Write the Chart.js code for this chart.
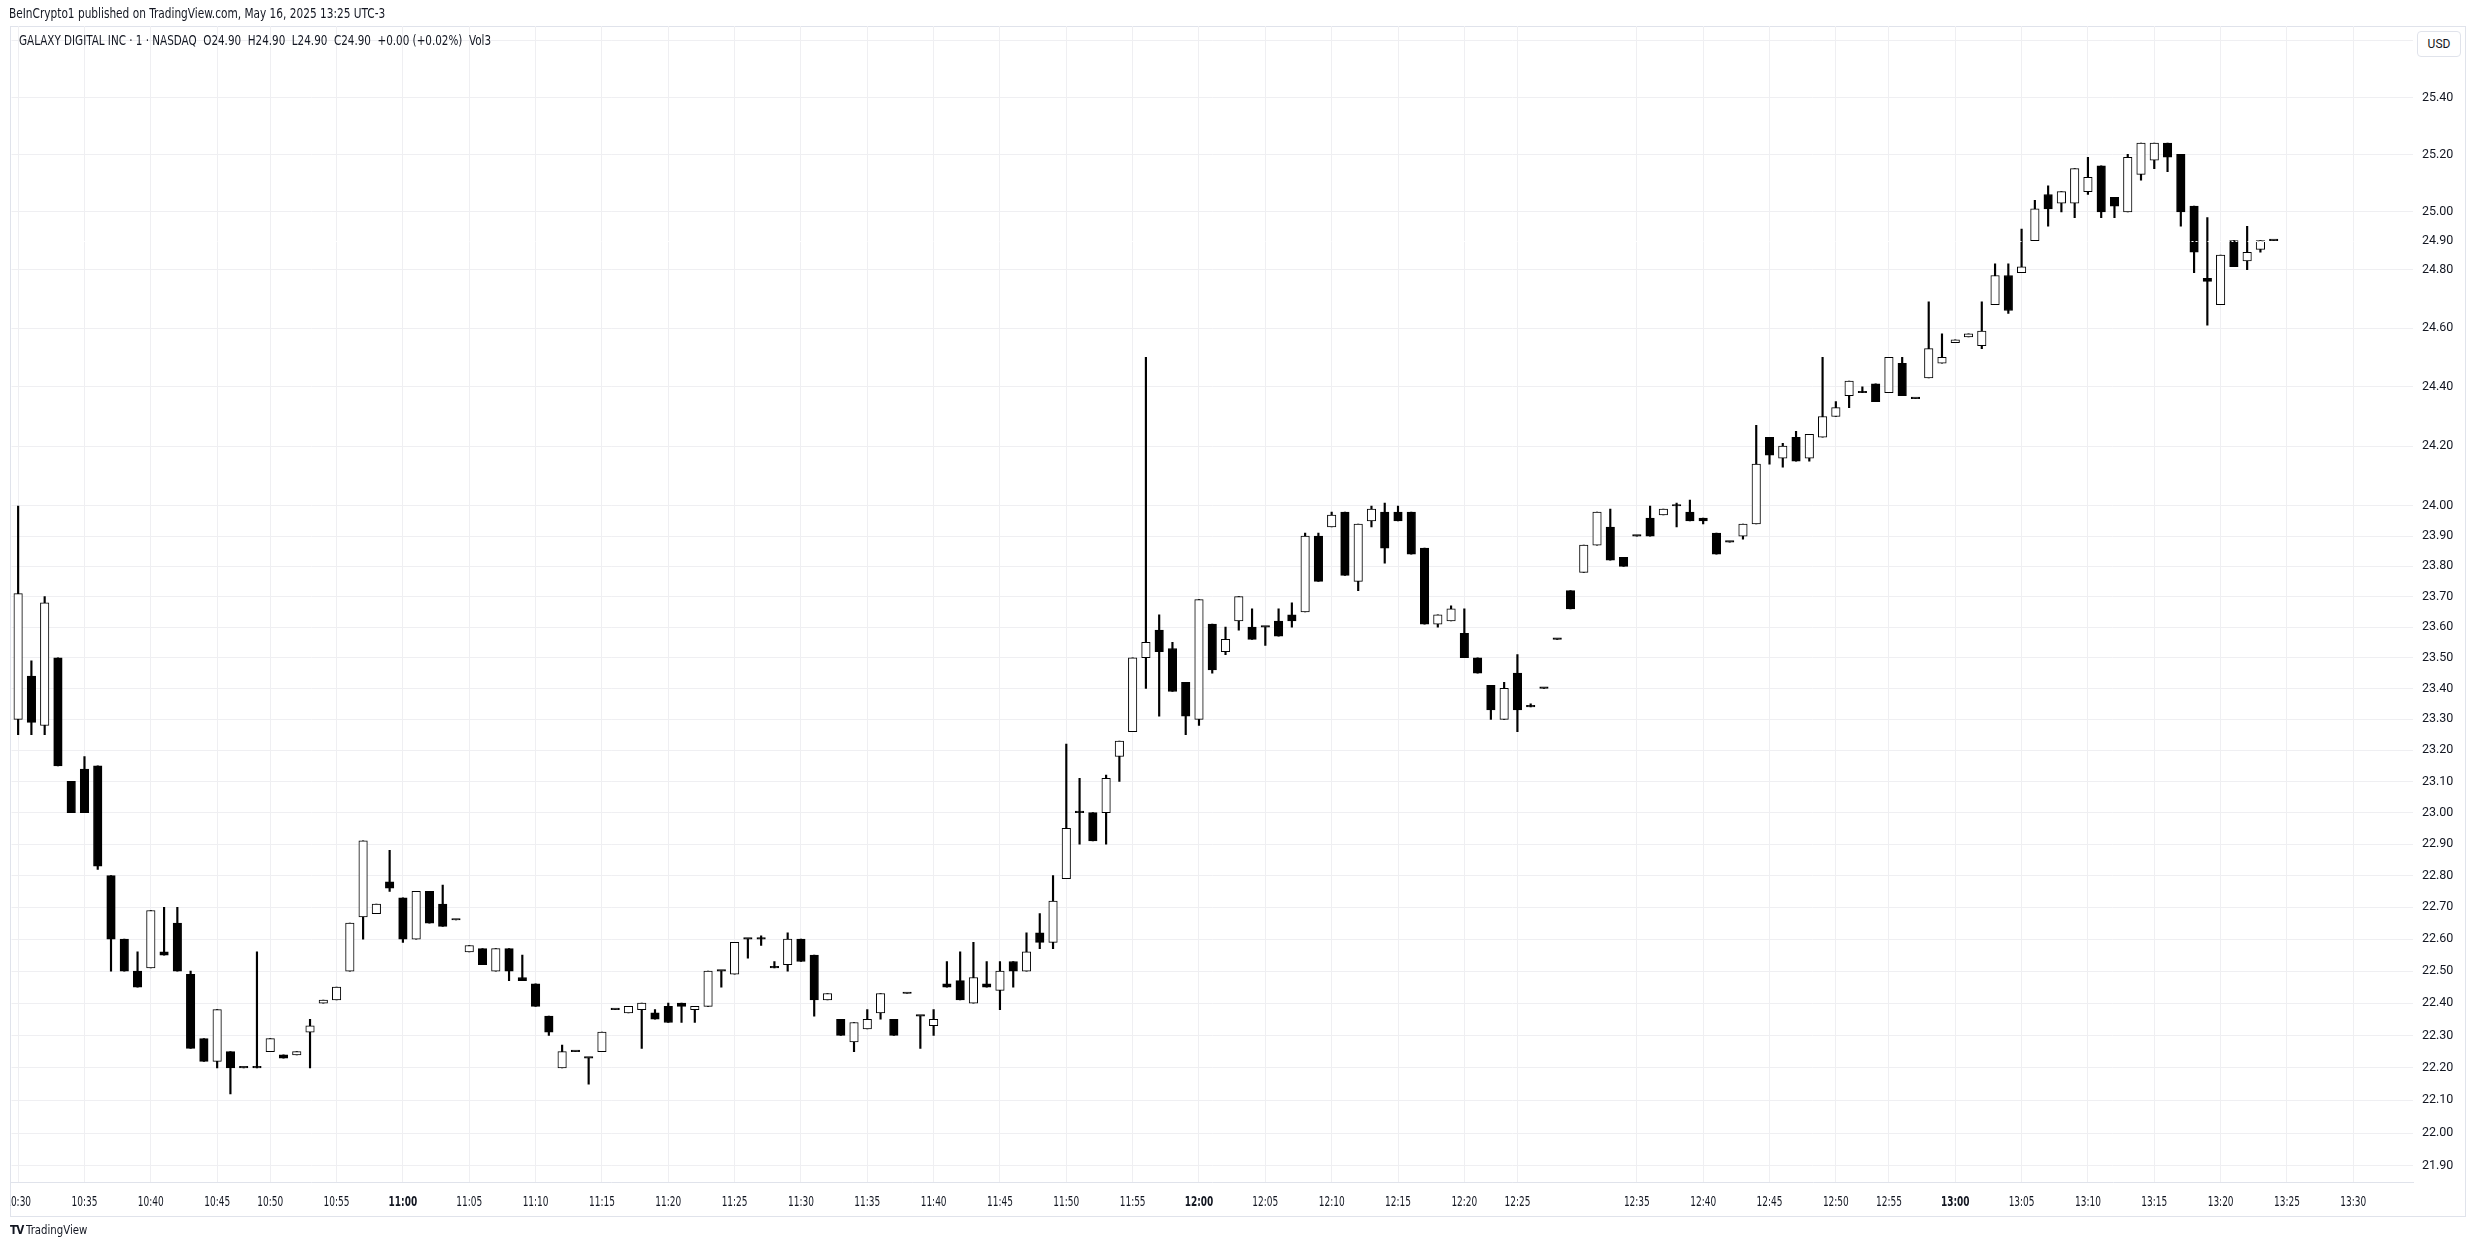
<!DOCTYPE html>
<html lang="en">
<head>
<meta charset="utf-8">
<title>GALAXY DIGITAL INC - 1 - NASDAQ</title>
<script src="https://cdn.jsdelivr.net/npm/chart.js@4.4.1/dist/chart.umd.min.js"></script>
<style>
  body { margin: 0; background: #fff; }
  #wrap { position: relative; width: 2475px; height: 1250px; overflow: hidden; }
  #frame { position: absolute; left: 10px; top: 26px; width: 2456px; height: 1191px;
           border: 1px solid #e0e3eb; box-sizing: border-box; }
  canvas { position: absolute; left: 0; top: 0; }
  .txt { position: absolute; color: #131722; white-space: pre; transform-origin: 0 0;
         font-family: "Liberation Sans Narrow", "DejaVu Sans Condensed", Roboto, sans-serif; font-size: 13.5px; }
  #head { left: 9px; top: 5px; transform: scaleX(0.87); }
  #legend { left: 19px; top: 32px; transform: scaleX(0.855); }
  #usd { position: absolute; left: 2417px; top: 31px; width: 44px; height: 26px; box-sizing: border-box;
         border: 1px solid #e0e3eb; border-radius: 4px; background: #fff;
         font: 12px Roboto, sans-serif; color: #131722; text-align: center; line-height: 24px; }
  #logo { left: 10px; top: 1222px; font-size: 13px; transform: scaleX(0.87); }
  #logo b { font-family: "DejaVu Sans", sans-serif; font-size: 12px; letter-spacing: -1px; margin-right: 3px; }
</style>
</head>
<body>
<div id="wrap">
  <div id="frame"></div>
  <canvas id="chart" width="2475" height="1250"></canvas>
  <div class="txt" id="head">BeInCrypto1 published on TradingView.com, May 16, 2025 13:25 UTC-3</div>
  <div class="txt" id="legend">GALAXY DIGITAL INC · 1 · NASDAQ  O24.90  H24.90  L24.90  C24.90  +0.00 (+0.02%)  Vol3</div>
  <div id="usd">USD</div>
  <div class="txt" id="logo"><b>TV</b>TradingView</div>
</div>
<script>
// 1-minute bars (missing minutes have no bar)
var times = [
  '10:30','10:31','10:32','10:33','10:34','10:35','10:36','10:37','10:38','10:39',
  '10:40','10:41','10:42','10:43','10:44','10:45','10:46','10:47','10:49',
  '10:50','10:51','10:52','10:53','10:54','10:55','10:56','10:57','10:58','10:59',
  '11:00','11:01','11:02','11:03','11:04','11:05','11:06','11:07','11:08','11:09',
  '11:10','11:11','11:12','11:13','11:14','11:15','11:16','11:17','11:18','11:19',
  '11:20','11:21','11:22','11:23','11:24','11:25','11:26','11:27','11:28','11:29',
  '11:30','11:31','11:32','11:33','11:34','11:35','11:36','11:37','11:38','11:39',
  '11:40','11:41','11:42','11:43','11:44','11:45','11:46','11:47','11:48','11:49',
  '11:50','11:51','11:52','11:53','11:54','11:55','11:56','11:57','11:58','11:59',
  '12:00','12:01','12:02','12:03','12:04','12:05','12:06','12:07','12:08','12:09',
  '12:10','12:11','12:12','12:13','12:14','12:15','12:16','12:17','12:18','12:19',
  '12:20','12:21',
  '12:23','12:24','12:25','12:26','12:27','12:28','12:29',
  '12:31','12:32','12:33','12:34','12:35','12:36','12:37','12:38','12:39',
  '12:40','12:41','12:42','12:43','12:44','12:45','12:46','12:47','12:48','12:49',
  '12:50','12:51','12:52','12:53',
  '12:55','12:56','12:57','12:58','12:59',
  '13:00','13:01','13:02','13:03','13:04','13:05','13:06','13:07','13:08','13:09',
  '13:10','13:11','13:12','13:13','13:14','13:15','13:16','13:17','13:18','13:19',
  '13:20','13:21','13:22','13:23','13:24'
];
// empty slots on the right of the last bar
var futureTimes = ['13:25','13:26','13:27','13:28','13:29','13:30','13:31','13:32','13:33','13:34'];

var opens = [
  23.30,23.44,23.28,23.50,23.10,23.14,23.15,22.80,22.60,22.50,
  22.51,22.56,22.65,22.49,22.29,22.22,22.25,22.20,22.20,
  22.25,22.24,22.24,22.31,22.40,22.41,22.50,22.67,22.68,22.78,
  22.73,22.60,22.75,22.71,22.66,22.56,22.57,22.50,22.57,22.48,
  22.46,22.36,22.20,22.25,22.23,22.25,22.38,22.37,22.38,22.37,
  22.39,22.40,22.38,22.39,22.50,22.49,22.60,22.60,22.51,22.52,
  22.60,22.55,22.41,22.35,22.28,22.32,22.37,22.35,22.43,22.36,
  22.33,22.46,22.47,22.40,22.46,22.44,22.53,22.50,22.62,22.59,
  22.79,23.00,23.00,23.00,23.18,23.26,23.50,23.59,23.53,23.42,
  23.30,23.61,23.52,23.62,23.60,23.60,23.62,23.64,23.65,23.90,
  23.93,23.98,23.75,23.95,23.98,23.98,23.98,23.86,23.61,23.62,
  23.58,23.50,
  23.41,23.30,23.45,23.34,23.40,23.56,23.72,
  23.78,23.87,23.93,23.83,23.90,23.96,23.97,24.00,23.98,
  23.96,23.91,23.88,23.90,23.94,24.23,24.16,24.23,24.16,24.23,
  24.30,24.37,24.38,24.41,
  24.38,24.48,24.36,24.43,24.48,
  24.55,24.57,24.54,24.68,24.78,24.79,24.90,25.06,25.03,25.03,
  25.07,25.16,25.05,25.00,25.13,25.18,25.24,25.20,25.02,24.77,
  24.68,24.90,24.83,24.87,24.90
];
var highs = [
  24.00,23.49,23.70,23.50,23.10,23.18,23.15,22.80,22.60,22.56,
  22.69,22.70,22.70,22.50,22.29,22.38,22.25,22.20,22.56,
  22.29,22.24,22.25,22.35,22.41,22.45,22.65,22.91,22.71,22.88,
  22.73,22.75,22.75,22.77,22.66,22.58,22.57,22.57,22.57,22.55,
  22.46,22.36,22.27,22.25,22.23,22.31,22.38,22.39,22.40,22.38,
  22.40,22.40,22.39,22.50,22.50,22.59,22.60,22.61,22.53,22.62,
  22.60,22.55,22.43,22.35,22.34,22.38,22.43,22.35,22.43,22.36,
  22.38,22.53,22.56,22.59,22.53,22.53,22.53,22.62,22.68,22.80,
  23.22,23.11,23.00,23.12,23.23,23.50,24.50,23.64,23.55,23.42,
  23.69,23.61,23.60,23.70,23.66,23.60,23.66,23.68,23.91,23.91,
  23.98,23.98,23.94,24.00,24.01,24.00,23.98,23.86,23.64,23.67,
  23.66,23.50,
  23.41,23.42,23.51,23.35,23.40,23.56,23.72,
  23.87,23.98,23.99,23.83,23.90,24.00,23.99,24.01,24.02,
  23.96,23.91,23.88,23.94,24.27,24.23,24.21,24.25,24.24,24.50,
  24.35,24.42,24.40,24.41,
  24.50,24.50,24.36,24.69,24.58,
  24.56,24.58,24.69,24.82,24.82,24.94,25.04,25.09,25.07,25.15,
  25.19,25.16,25.05,25.20,25.24,25.24,25.24,25.20,25.02,24.98,
  24.85,24.90,24.95,24.90,24.90
];
var lows = [
  23.25,23.25,23.25,23.15,23.00,23.00,22.82,22.50,22.50,22.45,
  22.51,22.55,22.50,22.26,22.22,22.20,22.12,22.20,22.20,
  22.25,22.23,22.24,22.20,22.40,22.41,22.50,22.60,22.68,22.75,
  22.59,22.60,22.65,22.64,22.66,22.56,22.52,22.50,22.47,22.47,
  22.39,22.30,22.20,22.25,22.15,22.25,22.38,22.37,22.26,22.35,
  22.34,22.34,22.34,22.39,22.45,22.49,22.54,22.58,22.51,22.50,
  22.53,22.36,22.41,22.30,22.25,22.32,22.35,22.30,22.43,22.26,
  22.30,22.45,22.41,22.40,22.45,22.38,22.45,22.50,22.57,22.57,
  22.79,22.90,22.91,22.90,23.10,23.26,23.40,23.31,23.39,23.25,
  23.28,23.45,23.51,23.59,23.56,23.54,23.57,23.60,23.65,23.75,
  23.93,23.77,23.72,23.93,23.81,23.95,23.84,23.61,23.60,23.62,
  23.50,23.45,
  23.30,23.30,23.26,23.34,23.40,23.56,23.66,
  23.78,23.87,23.82,23.80,23.90,23.90,23.97,23.93,23.95,
  23.94,23.84,23.88,23.89,23.94,24.14,24.13,24.15,24.15,24.23,
  24.30,24.33,24.38,24.35,
  24.38,24.37,24.36,24.43,24.48,
  24.55,24.57,24.53,24.68,24.65,24.79,24.90,24.95,25.00,24.98,
  25.06,24.98,24.98,25.00,25.11,25.15,25.14,24.95,24.79,24.61,
  24.68,24.81,24.80,24.86,24.90
];
var closes = [
  23.71,23.29,23.68,23.15,23.00,23.00,22.83,22.60,22.50,22.45,
  22.69,22.55,22.50,22.26,22.22,22.38,22.20,22.20,22.20,
  22.29,22.23,22.25,22.33,22.41,22.45,22.65,22.91,22.71,22.76,
  22.60,22.75,22.65,22.64,22.66,22.58,22.52,22.57,22.50,22.47,
  22.39,22.31,22.25,22.25,22.23,22.31,22.38,22.39,22.40,22.35,
  22.34,22.39,22.39,22.50,22.50,22.59,22.60,22.60,22.51,22.60,
  22.53,22.41,22.43,22.30,22.34,22.35,22.43,22.30,22.43,22.36,
  22.35,22.45,22.41,22.48,22.45,22.50,22.50,22.56,22.59,22.72,
  22.95,23.00,22.91,23.11,23.23,23.50,23.55,23.52,23.39,23.31,
  23.69,23.46,23.56,23.70,23.56,23.60,23.57,23.62,23.90,23.75,
  23.97,23.77,23.94,23.99,23.86,23.95,23.84,23.61,23.64,23.66,
  23.50,23.45,
  23.33,23.40,23.33,23.34,23.40,23.56,23.66,
  23.87,23.98,23.82,23.80,23.90,23.90,23.99,24.00,23.95,
  23.95,23.84,23.88,23.94,24.14,24.17,24.20,24.15,24.24,24.30,
  24.33,24.42,24.38,24.35,
  24.50,24.37,24.36,24.53,24.50,
  24.56,24.58,24.59,24.78,24.66,24.81,25.01,25.01,25.07,25.15,
  25.12,25.00,25.02,25.19,25.24,25.24,25.19,25.00,24.86,24.76,
  24.85,24.81,24.86,24.90,24.90
];

// price axis labels (log scale)
var priceTicks = [21.9,22.0,22.1,22.2,22.3,22.4,22.5,22.6,22.7,22.8,22.9,
                  23.0,23.1,23.2,23.3,23.4,23.5,23.6,23.7,23.8,23.9,24.0,
                  24.2,24.4,24.6,24.8,25.0,25.2,25.4,25.6];
var lastPrice = closes[closes.length - 1];

var labels = times.concat(futureTimes);
var NARROW = '"Liberation Sans Narrow", "DejaVu Sans Condensed", Roboto, sans-serif';
var GRID = '#efeff2';

function isMark(i) {
  var t = labels[i];
  return t !== undefined && Number(t.slice(3)) % 5 === 0;
}

var bodies = [], wicks = [], bodyColors = [];
for (var i = 0; i < labels.length; i++) {
  if (i < opens.length) {
    bodies.push([opens[i], closes[i]]);
    wicks.push([lows[i], highs[i]]);
    bodyColors.push(closes[i] > opens[i] ? '#ffffff' : '#000000');
  } else {
    bodies.push(null);
    wicks.push(null);
    bodyColors.push('#000000');
  }
}

var yTickList = priceTicks.concat([lastPrice]).sort(function (a, b) { return a - b; });

// dotted last-price line (white, only shows over the candles)
var priceLine = {
  id: 'priceLine',
  afterDatasetsDraw: function (chart) {
    var ctx = chart.ctx, area = chart.chartArea;
    var y = Math.round(chart.scales.y.getPixelForValue(lastPrice)) + 0.5;
    ctx.save();
    ctx.strokeStyle = '#ffffff';
    ctx.lineWidth = 1;
    ctx.setLineDash([2, 2]);
    ctx.beginPath();
    ctx.moveTo(area.left, y);
    ctx.lineTo(area.right, y);
    ctx.stroke();
    ctx.restore();
  }
};

// time labels, drawn narrow like the TradingView axis font
var timeLabels = {
  id: 'timeLabels',
  afterDraw: function (chart) {
    var ctx = chart.ctx, xs = chart.scales.x;
    ctx.save();
    ctx.beginPath();
    ctx.rect(10, xs.top, chart.width - 10, xs.height);
    ctx.clip();
    ctx.fillStyle = '#131722';
    ctx.textAlign = 'center';
    ctx.textBaseline = 'middle';
    for (var i = 0; i < labels.length; i++) {
      if (!isMark(i)) continue;
      var t = labels[i];
      ctx.font = (t.slice(3) === '00' ? 'bold ' : '') + '13.5px ' + NARROW;
      ctx.save();
      ctx.translate(xs.getPixelForTick(i), xs.top + 20);
      ctx.scale(0.74, 1);
      ctx.fillText(t, 0, 0);
      ctx.restore();
    }
    ctx.restore();
  }
};

new Chart(document.getElementById('chart'), {
  type: 'bar',
  data: {
    labels: labels,
    datasets: [
      { label: 'body', data: bodies, backgroundColor: bodyColors, borderColor: '#000000',
        borderWidth: 1, borderSkipped: false, barThickness: 8.5, minBarLength: 1.5,
        grouped: false, order: 0 },
      { label: 'wick', data: wicks, backgroundColor: '#000000', borderWidth: 0,
        barThickness: 1.5, grouped: false, order: 1 }
    ]
  },
  options: {
    responsive: false,
    animation: false,
    layout: { padding: { left: 11.5, top: 26, right: 0, bottom: 33 } },
    plugins: { legend: { display: false }, tooltip: { enabled: false } },
    scales: {
      x: {
        type: 'category',
        offset: true,
        grid: {
          offset: false,
          drawTicks: false,
          color: function (c) { return isMark(c.index) ? GRID : 'rgba(0,0,0,0)'; }
        },
        border: { display: true, color: '#e0e3eb' },
        ticks: {
          autoSkip: false,
          maxRotation: 0,
          callback: function () { return ''; }
        },
        afterFit: function (s) { s.height = 35; s.paddingLeft = 0; s.paddingRight = 0; }
      },
      y: {
        type: 'logarithmic',
        position: 'right',
        min: 21.851,
        max: 25.653,
        afterBuildTicks: function (s) {
          s.ticks = yTickList.map(function (v) { return { value: v }; });
        },
        afterFit: function (s) { s.width = 62; s.paddingTop = 0; s.paddingBottom = 0; },
        grid: {
          drawTicks: false,
          color: function (c) { return c.tick && c.tick.value === lastPrice ? 'rgba(0,0,0,0)' : GRID; }
        },
        border: { display: false },
        ticks: {
          autoSkip: false,
          padding: 9,
          color: '#131722',
          font: { family: 'Roboto, sans-serif', size: 12.5 },
          callback: function (v) { return v >= 25.55 ? '' : Number(v).toFixed(2); }
        }
      }
    }
  },
  plugins: [priceLine, timeLabels]
});
</script>
</body>
</html>
